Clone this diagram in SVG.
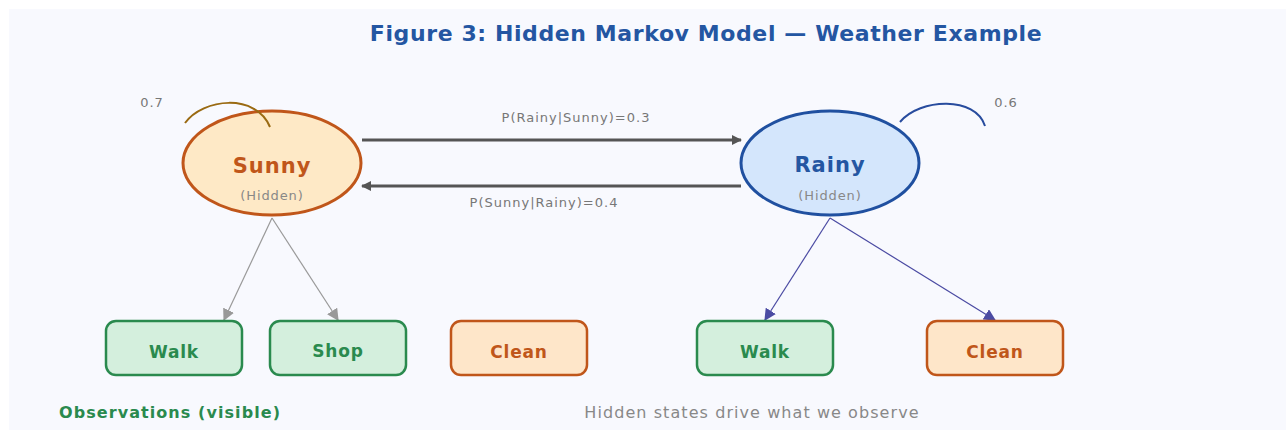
<svg xmlns="http://www.w3.org/2000/svg" width="1286" height="432" viewBox="0 0 1286 432">
  <defs>
    <style>
      text { font-family: "DejaVu Sans", Verdana, sans-serif; }
      .title { font-size: 22px; letter-spacing: 0.6px; font-weight: bold; fill: #2456a2; text-anchor: middle; }
      .state-name { font-size: 21px; letter-spacing: 1px; font-weight: bold; text-anchor: middle; }
      .hidden-tag { font-size: 13px; letter-spacing: 0.9px; fill: #888; text-anchor: middle; }
      .prob { font-size: 13px; letter-spacing: 1px; fill: #777; text-anchor: middle; }
      .obs-label { font-size: 17px; letter-spacing: 0.8px; font-weight: bold; text-anchor: middle; }
      .obs-green rect { fill: #d4efdd; stroke: #2a8a4e; stroke-width: 2.5; }
      .obs-green text { fill: #2a8a4e; }
      .obs-orange rect { fill: #fee6c9; stroke: #c0561a; stroke-width: 2.5; }
      .obs-orange text { fill: #c0561a; }
      .footer { font-size: 16px; letter-spacing: 1.07px; }
      .trans { stroke: #555; stroke-width: 3; fill: none; }
      .emit-sunny { stroke: #999; stroke-width: 1.2; fill: none; }
      .emit-rainy { stroke: #4b4ba3; stroke-width: 1.2; fill: none; }
      .loop { stroke-width: 2; fill: none; }
    </style>
    <marker id="arrow-dark" viewBox="0 0 10 10" refX="9" refY="5" markerWidth="12" markerHeight="10" markerUnits="userSpaceOnUse" orient="auto">
      <path d="M0,0 L10,5 L0,10 Z" fill="#555"/>
    </marker>
    <marker id="arrow-gray" viewBox="0 0 10 10" refX="9" refY="5" markerWidth="12" markerHeight="12" markerUnits="userSpaceOnUse" orient="auto">
      <path d="M0,0 L10,5 L0,10 Z" fill="#999"/>
    </marker>
    <marker id="arrow-indigo" viewBox="0 0 10 10" refX="9" refY="5" markerWidth="12" markerHeight="12" markerUnits="userSpaceOnUse" orient="auto">
      <path d="M0,0 L10,5 L0,10 Z" fill="#4b4ba3"/>
    </marker>
  </defs>

  <!-- canvas -->
  <rect x="9" y="9" width="1277" height="421" fill="#f8f9fe"/>

  <text class="title" x="706" y="41">Figure 3: Hidden Markov Model — Weather Example</text>

  <!-- transition and emission connectors -->
  <g id="connectors">
    <line class="trans" x1="362" y1="140" x2="741" y2="140" marker-end="url(#arrow-dark)"/>
    <line class="trans" x1="741" y1="186" x2="362" y2="186" marker-end="url(#arrow-dark)"/>
    <text class="prob" x="576" y="122">P(Rainy|Sunny)=0.3</text>
    <text class="prob" x="544" y="207">P(Sunny|Rainy)=0.4</text>

    <line class="emit-sunny" x1="272" y1="218" x2="224" y2="320" marker-end="url(#arrow-gray)"/>
    <line class="emit-sunny" x1="272" y1="218" x2="338" y2="320" marker-end="url(#arrow-gray)"/>
    <line class="emit-rainy" x1="830" y1="218" x2="765" y2="320" marker-end="url(#arrow-indigo)"/>
    <line class="emit-rainy" x1="830" y1="218" x2="995" y2="320" marker-end="url(#arrow-indigo)"/>
  </g>

  <!-- hidden states -->
  <g id="state-sunny">
    <ellipse cx="272" cy="163" rx="89" ry="52" fill="#fee9c6" stroke="#c0561a" stroke-width="3"/>
    <text class="state-name" x="272" y="173" fill="#c0561a">Sunny</text>
    <text class="hidden-tag" x="272" y="200">(Hidden)</text>
  </g>
  <g id="state-rainy">
    <ellipse cx="830" cy="163" rx="89" ry="52" fill="#d4e6fc" stroke="#2050a0" stroke-width="3"/>
    <text class="state-name" x="830" y="172" fill="#2456a2">Rainy</text>
    <text class="hidden-tag" x="830" y="200">(Hidden)</text>
  </g>

  <!-- self transitions, drawn over the state outlines -->
  <g id="self-loops">
    <path class="loop" d="M185,123 C203,98 256,93 270,127" stroke="#9a6a12"/>
    <text class="prob" x="152" y="107">0.7</text>
    <path class="loop" d="M900,122 C920,98 976,96 985,126" stroke="#284c9e"/>
    <text class="prob" x="1006" y="107">0.6</text>
  </g>

  <!-- observations -->
  <g id="obs-walk-1" class="obs-green">
    <rect x="106" y="321" width="136" height="54" rx="10"/>
    <text class="obs-label" x="174" y="358">Walk</text>
  </g>
  <g id="obs-shop" class="obs-green">
    <rect x="270" y="321" width="136" height="54" rx="10"/>
    <text class="obs-label" x="338" y="357">Shop</text>
  </g>
  <g id="obs-clean-1" class="obs-orange">
    <rect x="451" y="321" width="136" height="54" rx="10"/>
    <text class="obs-label" x="519" y="358">Clean</text>
  </g>
  <g id="obs-walk-2" class="obs-green">
    <rect x="697" y="321" width="136" height="54" rx="10"/>
    <text class="obs-label" x="765" y="358">Walk</text>
  </g>
  <g id="obs-clean-2" class="obs-orange">
    <rect x="927" y="321" width="136" height="54" rx="10"/>
    <text class="obs-label" x="995" y="358">Clean</text>
  </g>

  <text class="footer" x="59" y="418" font-weight="bold" fill="#2a8a4e">Observations (visible)</text>
  <text class="footer" x="752" y="418" fill="#888" text-anchor="middle">Hidden states drive what we observe</text>
</svg>
